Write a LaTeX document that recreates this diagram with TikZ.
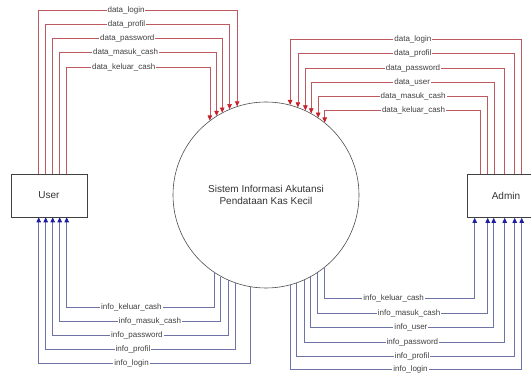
\documentclass[tikz,border=0pt]{standalone}
\usepackage{fontspec}
\setmainfont{Liberation Sans}
\usetikzlibrary{arrows.meta}
\definecolor{datared}{RGB}{190,90,95}
\definecolor{tipred}{RGB}{200,30,40}
\definecolor{infoblue}{RGB}{110,115,165}
\definecolor{tipblue}{RGB}{30,30,160}

\begin{document}
\begin{tikzpicture}[x=1pt,y=-1pt,
  box/.style={draw=black!75,line width=0.6pt,minimum width=#1,minimum height=43pt,inner sep=0pt,font=\fontsize{10}{12}\selectfont,text=black!80},
  lbl/.style={fill=white,inner sep=1pt,font=\fontsize{8}{9}\selectfont,text=black!75},
  data/.style={color=datared,line width=0.6pt,-{Triangle[length=5pt,width=4.5pt,color=tipred,fill=tipred]}},
  info/.style={color=infoblue,line width=0.6pt,{Triangle[length=5pt,width=4.5pt,color=tipblue,fill=tipblue]}-}]
\useasboundingbox (0,0) rectangle (531,374);

\node[box=76pt] (user) at (49,195.5) {User};
\node[box=78pt] (admin) at (506,196) {Admin};
\node[circle,draw=black!70,line width=0.6pt,minimum size=186pt,inner sep=0pt,align=center,
  font=\fontsize{10}{12}\selectfont,text=black!80] (sis) at (266,195) {Sistem Informasi Akutansi\\Pendataan Kas Kecil};

% user -> sistem
\foreach \dx/\y/\cx/\p/\lab in {55.5/67.5/209.5/0.20/data\_keluar\_cash, 49/53/216/0.21/data\_masuk\_cash,
  42/39/222/0.22/data\_password, 35/25/229/0.22/data\_profil, 28/11/237/0.22/data\_login} {
\pgfmathsetmacro\ang{acos((\cx-266)/93)}
\draw[data] ([xshift=\dx]user.north west) -- ++(0,\y-174) -| node[lbl,pos=\p]{\lab} (sis.\ang);
}

% admin -> sistem
\foreach \dx/\y/\cx/\p/\lab in {55/39/290/0.235/data\_login, 48/53/297/0.235/data\_profil,
  38/68/304/0.23/data\_password, 28/82/311/0.225/data\_user, 21/96/317/0.22/data\_masuk\_cash,
  14/110/324/0.215/data\_keluar\_cash} {
\pgfmathsetmacro\ang{acos((\cx-266)/93)}
\draw[data] ([xshift=\dx]admin.north west) -- ++(0,\y-174) -| node[lbl,pos=\p]{\lab} (sis.\ang);
}

% sistem -> user
\foreach \dx/\y/\cx/\p/\lab in {56/307/215/0.22/info\_keluar\_cash, 49/321/222/0.28/info\_masuk\_cash,
  42/335/229/0.24/info\_password, 35/349/236/0.23/info\_profil, 28/363/250/0.22/info\_login} {
\pgfmathsetmacro\ang{360-acos((\cx-266)/93)}
\draw[info] ([xshift=\dx]user.south west) -- ++(0,\y-217) -| node[lbl,pos=\p]{\lab} (sis.\ang);
}

% sistem -> admin
\foreach \dx/\y/\cx/\p/\lab in {8/298/325/0.27/info\_keluar\_cash, 21/313/317/0.23/info\_masuk\_cash,
  27/327/311/0.225/info\_user, 38/342/304/0.23/info\_password, 48/356/297/0.235/info\_profil,
  55/369/291/0.24/info\_login} {
\pgfmathsetmacro\ang{360-acos((\cx-266)/93)}
\draw[info] ([xshift=\dx]admin.south west) -- ++(0,\y-217) -| node[lbl,pos=\p]{\lab} (sis.\ang);
}
\end{tikzpicture}
\end{document}
